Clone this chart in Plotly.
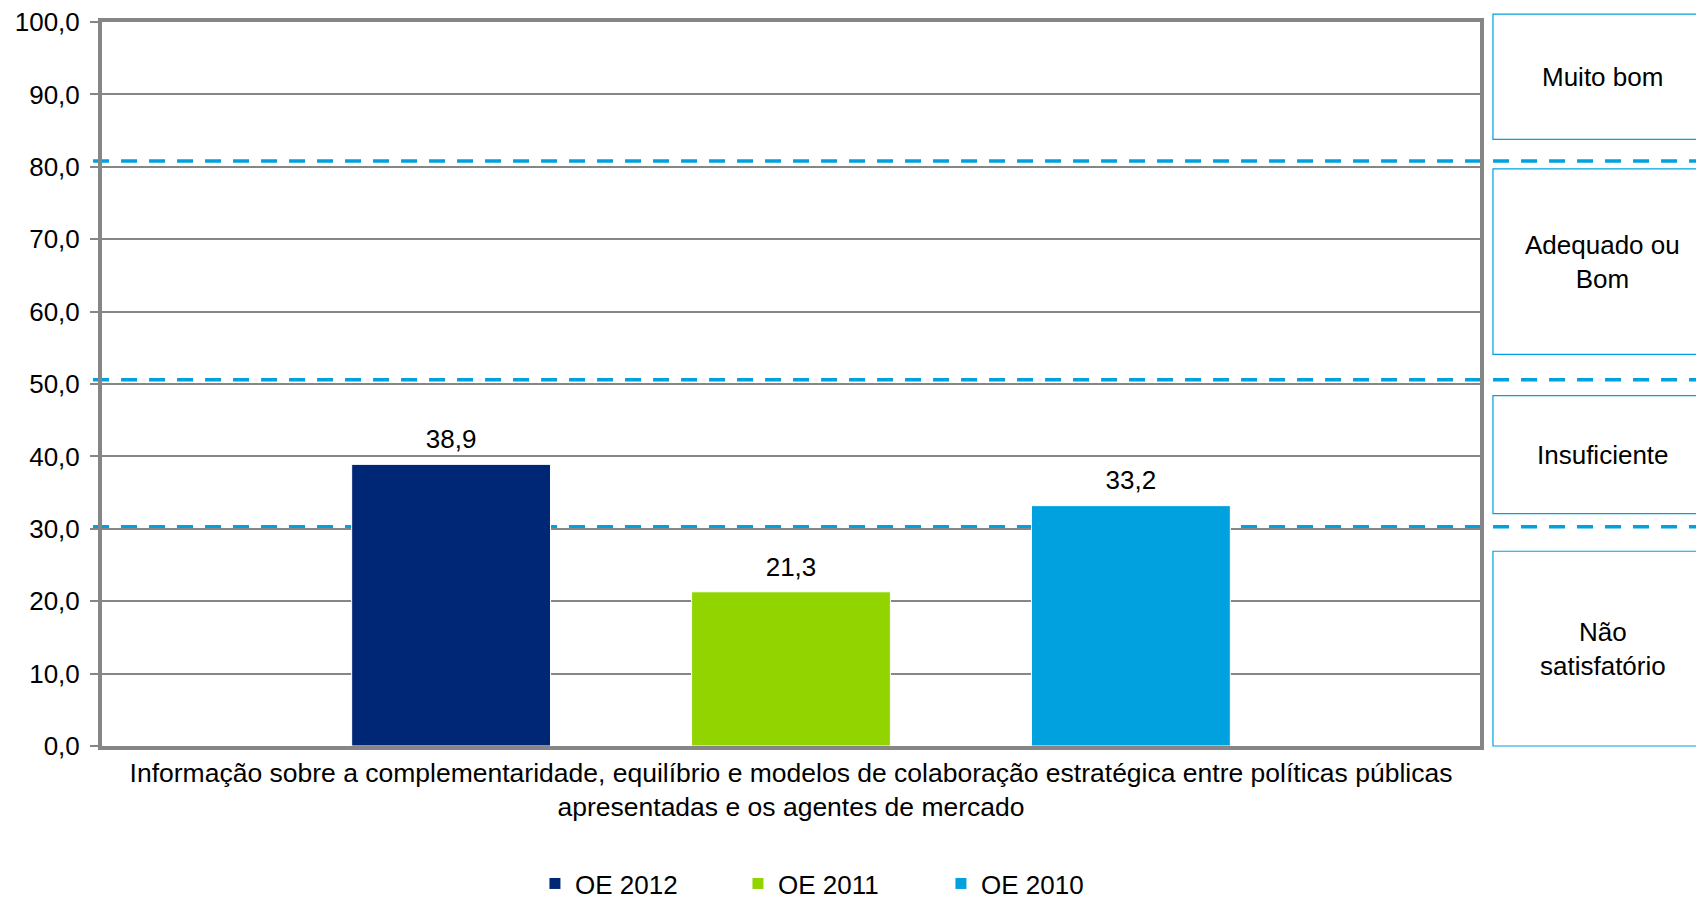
import plotly.graph_objects as go

# ---- data ----
category = ["Informação sobre a complementaridade, equilíbrio e modelos de colaboração estratégica entre políticas públicas<br>apresentadas e os agentes de mercado"]
series_names = ["OE 2012", "OE 2011", "OE 2010"]
series_values = [[38.9], [21.3], [33.2]]
series_colors = ["#002776", "#92D400", "#00A1DE"]

thresholds = [30.3, 50.6, 80.8]
band_labels = ["Não<br>satisfatório", "Insuficiente", "Adequado ou<br>Bom", "Muito bom"]
band_low = [0.0, 32.1, 54.1, 83.8]
band_high = [26.9, 48.4, 79.7, 101.1]

Y_MIN, Y_MAX = 0, 100

FONT = "Liberation Sans, Arial, sans-serif"
GRAY = "#868686"
BLUE = "#00A1DE"

fig = go.Figure()
for i, (name, vals, col) in enumerate(zip(series_names, series_values, series_colors)):
    fig.add_trace(go.Bar(
        x=category, y=vals, name=name, offsetgroup=str(i),
        marker=dict(color=col, line=dict(color="white", width=1)),
    ))
for i, (name, vals) in enumerate(zip(series_names, series_values)):
    fig.add_trace(go.Scatter(
        x=category, y=vals, name=name, offsetgroup=str(i),
        mode="markers+text", texttemplate="%{y:.1f}", textposition="top center",
        marker=dict(size=14, color="rgba(0,0,0,0)"),
        textfont=dict(family=FONT, size=26, color="black"),
        showlegend=False, cliponaxis=False, hoverinfo="skip",
    ))

# dashed threshold lines spanning beyond the plot area
for t in thresholds:
    fig.add_shape(type="line", xref="paper", yref="y",
                  x0=-0.0065, x1=1.17, y0=t, y1=t,
                  line=dict(color=BLUE, width=3.5, dash="16px,12px"),
                  layer="below")

def to_paper(v):
    return (v - Y_MIN) / (Y_MAX - Y_MIN)

# side rating boxes
for lab, lo, hi in zip(band_labels, band_low, band_high):
    fig.add_shape(type="rect", xref="paper", yref="paper",
                  x0=1.0094, x1=1.175, y0=to_paper(lo), y1=to_paper(hi),
                  line=dict(color=BLUE, width=1.2), fillcolor="rgba(0,0,0,0)", layer="below")
    fig.add_annotation(xref="paper", yref="paper", x=1.089, y=to_paper((lo + hi) / 2),
                       text=lab, showarrow=False, xanchor="center", yanchor="middle",
                       font=dict(family=FONT, size=26, color="black"))

fig.update_layout(
    width=1696, height=891,
    margin=dict(l=94, r=224, t=13.5, b=152.5, autoexpand=False),
    paper_bgcolor="white", plot_bgcolor="white",
    separators=", ",
    barmode="group", bargap=0.26, bargroupgap=0.415,
    scattermode="group", scattergap=0.26,
    font=dict(family=FONT, size=26, color="black"),
    showlegend=True,
    legend=dict(orientation="h", x=0.3142, xanchor="left", y=-0.19, yanchor="middle",
                font=dict(family=FONT, size=26, color="black"),
                entrywidth=158, entrywidthmode="pixels", itemwidth=30,
                bgcolor="rgba(0,0,0,0)"),
)
fig.update_yaxes(range=[Y_MIN, Y_MAX], dtick=10, tickformat=".1f",
                 showgrid=True, gridcolor=GRAY, gridwidth=1.5,
                 showline=True, linecolor=GRAY, linewidth=4, mirror=True,
                 ticks="outside", ticklen=8, tickwidth=2, tickcolor=GRAY,
                 ticklabelstandoff=5, ticklabeloverflow="allow",
                 tickfont=dict(family=FONT, size=26, color="black"),
                 zeroline=False, fixedrange=True)
fig.update_xaxes(showline=True, linecolor=GRAY, linewidth=4, mirror=True,
                 ticks="", showgrid=False,
                 tickfont=dict(family=FONT, size=26.5, color="black"),
                 fixedrange=True)

fig.write_html("out.html")
